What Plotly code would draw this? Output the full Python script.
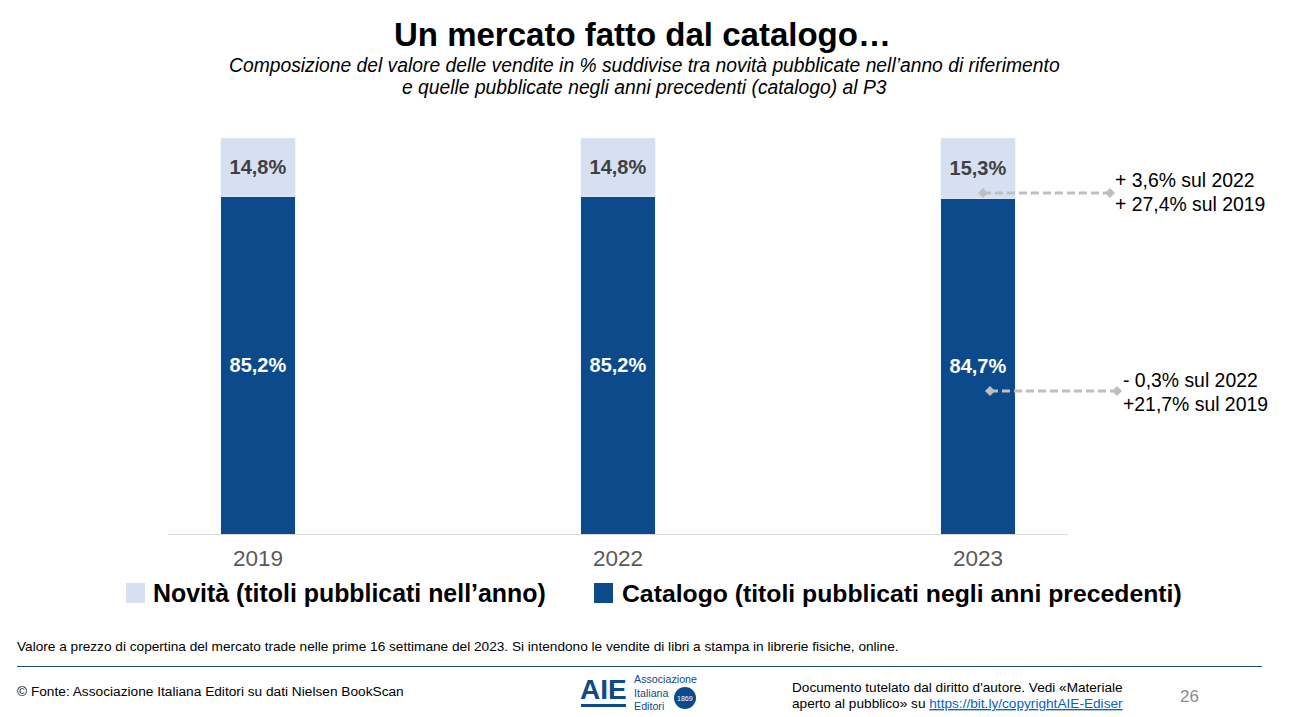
import plotly.graph_objects as go

W, H = 1289, 717

# data
years = ["2019", "2022", "2023"]
catalogo = [85.2, 85.2, 84.7]
novita = [14.8, 14.8, 15.3]
nome_novita = "Novità (titoli pubblicati nell’anno)"
nome_catalogo = "Catalogo (titoli pubblicati negli anni precedenti)"

BLUE = "#0d4a8c"
LIGHT = "#d6e0f2"
FONT = "Liberation Sans"


# page pixels -> paper coordinates of the plot area
L, R, T, B = 168, 1068, 138, 534
def px(x):
    return (x - L) / (R - L)
def py(y):
    return (B - y) / (B - T)


fig = go.Figure()
fig.add_trace(go.Bar(x=years, y=catalogo, name=nome_catalogo, marker_color=BLUE,
                     texttemplate="<b>%{y:.1f}%</b>", textposition="inside", insidetextanchor="middle",
                     textfont=dict(color="white", size=20, family=FONT), textangle=0))
fig.add_trace(go.Bar(x=years, y=novita, name=nome_novita, marker_color=LIGHT,
                     texttemplate="<b>%{y:.1f}%</b>", textposition="inside", insidetextanchor="middle",
                     textfont=dict(color="#404040", size=20, family=FONT), textangle=0))


def label(x, y, text, size, color="black", anchor="left", vanchor="middle", align=None, family=FONT):
    fig.add_annotation(xref="paper", yref="paper", x=px(x), y=py(y), text=text, showarrow=False,
                       xanchor=anchor, yanchor=vanchor, align=align or anchor,
                       font=dict(size=size, color=color, family=family), borderpad=0, borderwidth=0)


def square(x0, y0, x1, y1, color):
    fig.add_shape(type="rect", xref="paper", yref="paper", x0=px(x0), x1=px(x1), y0=py(y0), y1=py(y1),
                  fillcolor=color, line_width=0)


def hline(x0, x1, y, color, width=1, dash="solid"):
    fig.add_shape(type="line", xref="paper", yref="paper", x0=px(x0), x1=px(x1), y0=py(y), y1=py(y),
                  line=dict(color=color, width=width, dash=dash))


def diamond(x, y, r=5, color="#bfbfbf"):
    d = f"M{px(x - r)},{py(y)} L{px(x)},{py(y - r)} L{px(x + r)},{py(y)} L{px(x)},{py(y + r)} Z"
    fig.add_shape(type="path", xref="paper", yref="paper", path=d, fillcolor=color, line_width=0)


# titles
label(642, 34, "<b>Un mercato fatto dal catalogo…</b>", 33, anchor="center")
label(644, 65, "<i>Composizione del valore delle vendite in % suddivise tra novità pubblicate nell’anno di riferimento</i>",
      19.3, anchor="center")
label(644, 88, "<i>e quelle pubblicate negli anni precedenti (catalogo) al P3</i>", 19.3, anchor="center")

# connectors and growth notes
hline(983, 1110, 193, "#bfbfbf", 3, "8px,4px")
diamond(983, 193)
diamond(1110, 193)
hline(990, 1117, 391, "#bfbfbf", 3, "8px,4px")
diamond(990, 391)
diamond(1117, 391)
label(1115, 180, "+ 3,6% sul 2022", 19.4)
label(1115, 204, "+ 27,4% sul 2019", 19.4)
label(1123, 380, "- 0,3% sul 2022", 19.4)
label(1123, 404, "+21,7% sul 2019", 19.4)

# legend
square(126, 583, 145, 603, LIGHT)
label(153, 593, "<b>" + nome_novita + "</b>", 24.9)
square(594, 583, 613, 603, BLUE)
label(622, 593, "<b>" + nome_catalogo + "</b>", 24.75)

# footer
label(17, 646, "Valore a prezzo di copertina del mercato trade nelle prime 16 settimane del 2023. Si intendono le vendite di libri a stampa in librerie fisiche, online.", 13.65)
hline(17, 1262, 666.5, "#1f4e79", 1)
label(17, 691, "© Fonte: Associazione Italiana Editori su dati Nielsen BookScan", 13.7)
label(792, 687, "Documento tutelato dal diritto d'autore. Vedi «Materiale", 13.6)
label(792, 703, "aperto al pubblico» su <a href='https://bit.ly/copyrightAIE-Ediser' style='color:#0563c1'><u>https://bit.ly/copyrightAIE-Ediser</u></a>", 13.65)
label(1189, 696, "26", 17, color="#8c8c8c", anchor="center")

# AIE logo
label(603.5, 689, "<b>AIE</b>", 28, color=BLUE, anchor="center")
hline(581, 626, 705.5, BLUE, 3)
label(634, 679, "Associazione", 10.7, color=BLUE)
label(634, 693, "Italiana", 10.7, color=BLUE)
label(634, 706, "Editori", 10.7, color=BLUE)
fig.add_shape(type="circle", xref="paper", yref="paper", x0=px(674), x1=px(696), y0=py(709), y1=py(687),
              fillcolor=BLUE, line_width=0)
label(685, 698, "1869", 7, color="white", anchor="center")

fig.update_layout(
    barmode="stack", bargap=0.794, width=W, height=H, separators=",.",
    margin=dict(l=L, r=W - R, t=T, b=H - B, autoexpand=False),
    paper_bgcolor="white", plot_bgcolor="white", showlegend=False,
    font=dict(family=FONT),
    xaxis=dict(type="category", range=[-0.25, 2.25], showgrid=False, ticks="", showline=True,
               linecolor="#d9d9d9", linewidth=1, tickfont=dict(size=22.5, color="#595959"),
               ticklabelstandoff=4),
    yaxis=dict(range=[0, 100], visible=False),
)

fig.write_html("out.html", config={"displayModeBar": False},
               post_script="document.body.style.margin='0';")
